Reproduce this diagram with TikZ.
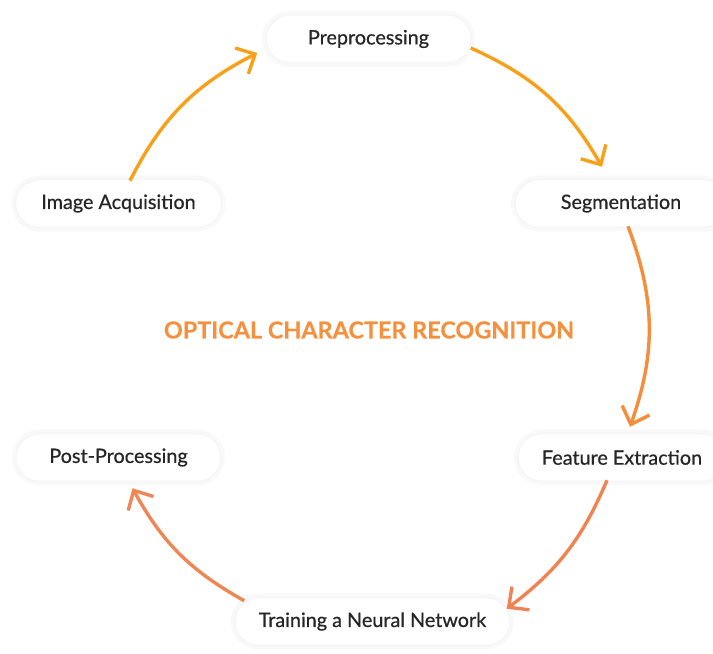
\documentclass[tikz,border=0pt]{standalone}
\usepackage{fontspec}
\setmainfont{Lato}
\usetikzlibrary{arrows.meta,shadows}
\definecolor{txt}{HTML}{262626}
\definecolor{cA}{HTML}{F9A01B}
\definecolor{cB}{HTML}{F9A01B}
\definecolor{cC}{HTML}{F58E3A}
\definecolor{cD}{HTML}{F08352}
\definecolor{cE}{HTML}{EE8656}
\definecolor{ttl}{HTML}{F5913E}
\tikzset{
  pill/.style={rounded corners=24pt, fill=white, minimum height=48pt, text=txt,
    font=\addfontfeatures{FakeBold=0.6}\fontsize{19.8}{22}\selectfont, inner xsep=0pt,
    preaction={draw=black!2.5, line width=8pt},
    draw=black!3.5, line width=1.5pt},
  flow/.style={line width=3.4pt, -{Straight Barb[length=15pt,width=29pt]}}
}
\begin{document}
\begin{tikzpicture}[x=1pt,y=1pt]
\useasboundingbox (0,0) rectangle (713,654);
\clip (0,0) rectangle (713,654);
\fill[white] (0,0) rectangle (713,654);
\node[pill, minimum width=205pt] (pre) at (368.5,615) {Preprocessing};
\node[pill, minimum width=206pt] (acq) at (118.5,450.5) {Image Acquisition};
\node[pill, minimum width=212pt] (seg) at (621,450.5) {Segmentation};
\node[pill, minimum width=208pt] (fea) at (622,196.5) {Feature Extraction};
\node[pill, minimum width=205pt] (post) at (118.5,196.5) {Post-Processing};
\node[pill, minimum width=275pt] (train) at (372.5,32.5) {Training a Neural Network};
\node[text=ttl, font=\bfseries\addfontfeatures{FakeBold=0.4}\fontsize{23.4}{26}\selectfont] (title) at (369,324) {OPTICAL CHARACTER RECOGNITION};
\draw[flow, cA] ([xshift=11.5pt,yshift=-2pt]acq.north) to[bend left=18] ([xshift=-8pt,yshift=-14pt]pre.west);
\draw[flow, cB] ([xshift=-1pt,yshift=-9pt]pre.east) to[bend left=18] ([xshift=-19pt,yshift=12pt]seg.north);
\draw[flow, cC] ([xshift=7pt,yshift=2pt]seg.south) to[bend left=20] ([xshift=8pt,yshift=6pt]fea.north);
\draw[flow, cD] ([xshift=-15pt,yshift=2pt]fea.south) to[bend left=15] ([xshift=-4pt,yshift=-12pt]train.north east);
\draw[flow, cE] ([xshift=10pt,yshift=-4pt]train.north west) to[bend left=16] ([xshift=14pt,yshift=-6pt]post.south);
\end{tikzpicture}
\end{document}
